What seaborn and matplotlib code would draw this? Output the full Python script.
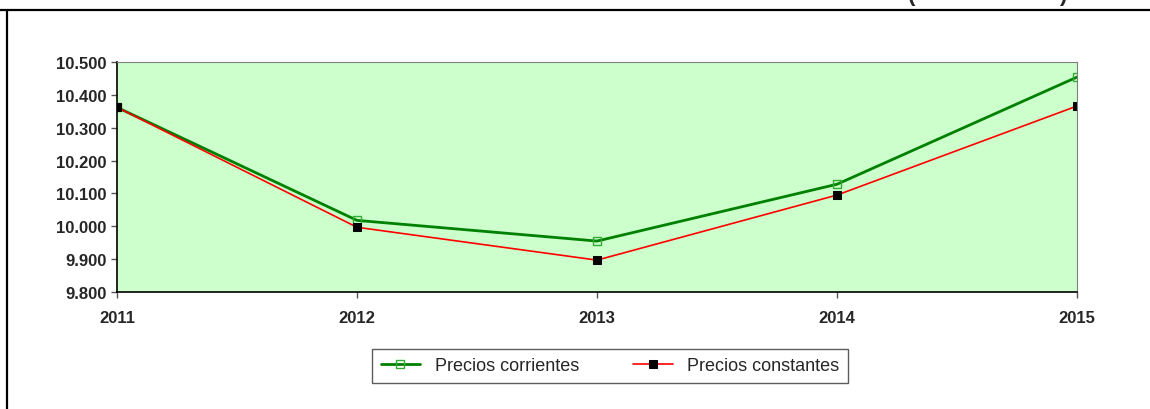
import numpy as np
import pandas as pd
import seaborn as sns
from matplotlib import pyplot as plt
from matplotlib.lines import Line2D
from matplotlib.ticker import FuncFormatter

# valores
years = [2011, 2012, 2013, 2014, 2015]
corrientes = [10362, 10018, 9955, 10128, 10454]
constantes = [10362, 9997, 9897, 10095, 10366]
y_ticks = [9800, 9900, 10000, 10100, 10200, 10300, 10400, 10500]

sns.set_style("ticks")
plt.rcParams['font.family'] = ['Liberation Sans', 'DejaVu Sans']

df = pd.DataFrame({"year": years, "corrientes": corrientes, "constantes": constantes})

fig = plt.figure(figsize=(11.5, 4.1), dpi=100)
ax = fig.add_axes([117 / 1150, 1 - 293 / 410, 960 / 1150, 230 / 410])
ax.set_facecolor("#ccffcc")

sns.lineplot(data=df, x="year", y="corrientes", ax=ax, color="#008000",
             linewidth=2.0, marker="s", markersize=6, markerfacecolor="none",
             markeredgecolor="#33aa33", markeredgewidth=1.0,
             label="Precios corrientes")
sns.lineplot(data=df, x="year", y="constantes", ax=ax, color="#ff0000",
             linewidth=1.2, marker="s", markersize=6, markerfacecolor="black",
             markeredgecolor="black", label="Precios constantes")

ax.set_xlim(2011, 2015)
ax.set_ylim(9800, 10500)
ax.set_xticks(years)
ax.set_yticks(y_ticks)
ax.yaxis.set_major_formatter(FuncFormatter(lambda v, p: f"{v:,.0f}".replace(",", ".")))
ax.set_xlabel("")
ax.set_ylabel("")
for lab in ax.get_xticklabels() + ax.get_yticklabels():
    lab.set_fontweight("bold")
    lab.set_fontsize(12)
ax.tick_params(axis="both", length=4, width=1, color="#555555")
ax.tick_params(axis="x", pad=9)
for side in ["top", "right"]:
    ax.spines[side].set_visible(True)
    ax.spines[side].set_color("#808080")
for side in ["left", "bottom"]:
    ax.spines[side].set_color("black")
    ax.spines[side].set_linewidth(1.2)

handles, labels = ax.get_legend_handles_labels()
ax.get_legend().remove()
leg = fig.legend(handles, labels, loc="center", bbox_to_anchor=(610 / 1150, 1 - 367 / 410),
                 ncol=2, fontsize=13, frameon=True, fancybox=False, handlelength=2.2,
                 columnspacing=3.0, borderpad=0.45)
leg.get_frame().set_edgecolor("#333333")
leg.get_frame().set_linewidth(1.0)

# marco exterior y titulo recortado
fig.add_artist(Line2D([0, 1], [1 - 11 / 410] * 2, color="black", linewidth=1.6))
fig.add_artist(Line2D([7 / 1150] * 2, [0, 1 - 11 / 410], color="black", linewidth=1.6))
fig.text(912 / 1150, 1 + 4 / 410, "(", fontsize=16, fontweight="bold", ha="center", va="center")
fig.text(1063 / 1150, 1 + 4 / 410, ")", fontsize=16, fontweight="bold", ha="center", va="center")

fig.savefig("out.png", dpi=100)
